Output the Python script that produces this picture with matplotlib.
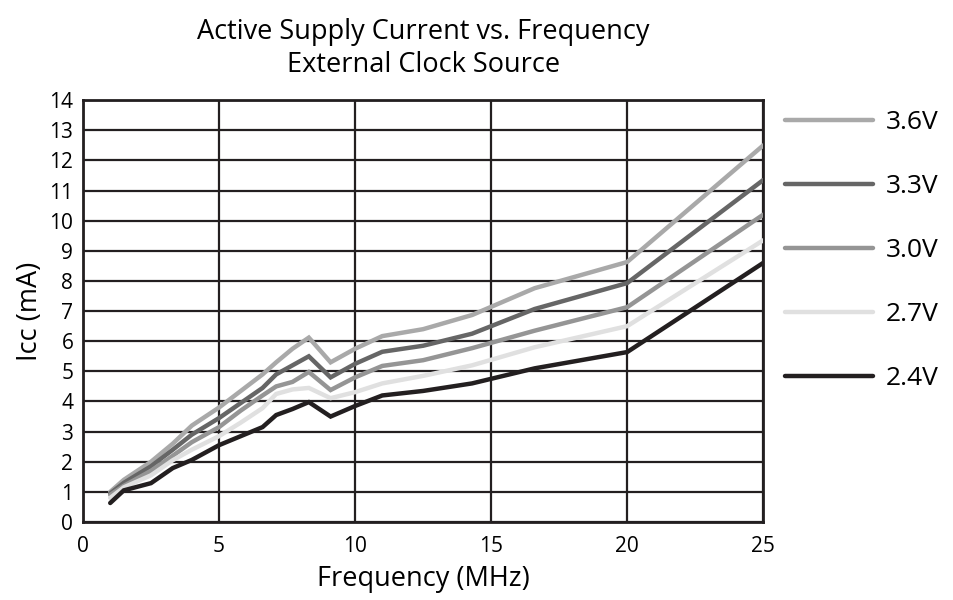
"""Active supply current vs. frequency, external clock source."""

import matplotlib
matplotlib.use("Agg")
import matplotlib.pyplot as plt

freq_mhz = [1, 1.5, 2.5, 3.3, 4, 5, 5.8, 6.6, 7.1, 7.7, 8.3, 9.1, 10, 11, 12.5, 14.3, 16.6, 20, 25]

icc_36 = [1.0, 1.4, 2.0, 2.6, 3.2, 3.8, 4.35, 4.9, 5.3, 5.75, 6.12, 5.3, 5.75, 6.17, 6.4, 6.87, 7.76, 8.63, 12.5]
icc_33 = [0.95, 1.3, 1.85, 2.4, 2.9, 3.45, 3.95, 4.45, 4.9, 5.2, 5.5, 4.8, 5.25, 5.65, 5.85, 6.25, 7.07, 7.93, 11.35]
icc_30 = [0.9, 1.2, 1.7, 2.2, 2.65, 3.15, 3.7, 4.2, 4.5, 4.65, 4.98, 4.38, 4.8, 5.18, 5.37, 5.77, 6.35, 7.13, 10.2]
icc_27 = [0.8, 1.15, 1.55, 2.05, 2.4, 2.85, 3.3, 3.78, 4.25, 4.4, 4.45, 4.11, 4.31, 4.6, 4.85, 5.2, 5.8, 6.5, 9.35]
icc_24 = [0.63, 1.05, 1.29, 1.79, 2.06, 2.55, 2.85, 3.15, 3.55, 3.75, 3.98, 3.5, 3.85, 4.2, 4.35, 4.6, 5.1, 5.64, 8.6]

series_labels = ["3.6V", "3.3V", "3.0V", "2.7V", "2.4V"]
series_values = [icc_36, icc_33, icc_30, icc_27, icc_24]
series_colors = ["#a9a9a9", "#666666", "#959595", "#e0e0e0", "#231f20"]

x_ticks = [0, 5, 10, 15, 20, 25]
y_ticks = list(range(0, 15))

plt.rcParams["font.family"] = ["Open Sans", "DejaVu Sans"]

fig = plt.figure(figsize=(9.54, 6.0), dpi=100)
ax = fig.add_axes([0.087, 0.13, 0.713, 0.703])

for label, vals, color in zip(series_labels, series_values, series_colors):
    ax.plot(freq_mhz, vals, color=color, lw=3.2, label=label,
            solid_capstyle="round", solid_joinstyle="miter", zorder=3)

ax.set_xlim(0, 25)
ax.set_ylim(0, 14)
ax.set_xticks(x_ticks)
ax.set_yticks(y_ticks)
ax.tick_params(axis="both", length=0, labelsize=15)
ax.tick_params(axis="x", pad=10)
ax.tick_params(axis="y", pad=7)
ax.grid(True, color="#231f20", lw=1.6, zorder=1)
ax.set_axisbelow(True)
for sp in ax.spines.values():
    sp.set_color("#231f20")
    sp.set_linewidth(2.0)

ax.set_xlabel("Frequency (MHz)", fontsize=19.5, labelpad=6)
ax.set_ylabel("Icc (mA)", fontsize=19.5, labelpad=4)
ax.set_title("Active Supply Current vs. Frequency\nExternal Clock Source",
             fontsize=19.5, linespacing=1.28, pad=20)

leg = ax.legend(loc="upper left", bbox_to_anchor=(1.005, 1.02), frameon=False,
                fontsize=19, handlelength=3.33, handletextpad=0.5,
                labelspacing=1.48, borderaxespad=0.3)
for line in leg.get_lines():
    line.set_linewidth(3.2)
    line.set_solid_capstyle("round")

fig.savefig("out.png", dpi=100)
